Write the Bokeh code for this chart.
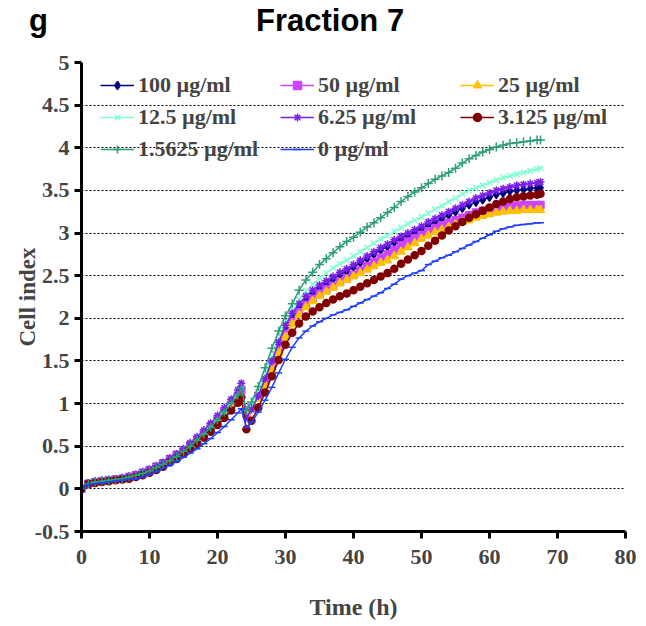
from bokeh.plotting import figure
from bokeh.models import Range1d, FixedTicker, Legend, LegendItem, Div
from bokeh.layouts import column
from bokeh.embed import file_html
from bokeh.resources import INLINE

# ---- data -------------------------------------------------------------
time_h = list(range(0, 24)) + [23.5, 24.25] + list(range(25, 68)) + [67.5]

labels = ["100 µg/ml", "50 µg/ml", "25 µg/ml", "12.5 µg/ml",
          "6.25 µg/ml", "3.125 µg/ml", "1.5625 µg/ml", "0 µg/ml"]

c100 = [0, 0.06, 0.08, 0.09, 0.10, 0.11, 0.12, 0.13, 0.15, 0.18, 0.21, 0.24, 0.28, 0.33, 0.38, 0.43, 0.49, 0.56, 0.63, 0.71, 0.79, 0.88, 0.97, 1.07, 1.15,
        0.88, 0.95, 1.10, 1.28, 1.48, 1.69, 1.88, 2.02, 2.13, 2.22, 2.29, 2.35, 2.41, 2.46, 2.51, 2.55, 2.60, 2.65, 2.70, 2.75, 2.80, 2.84, 2.89, 2.93, 2.97,
        3.01, 3.05, 3.09, 3.13, 3.17, 3.21, 3.25, 3.29, 3.33, 3.36, 3.39, 3.42, 3.45, 3.47, 3.49, 3.50, 3.51, 3.52, 3.53, 3.53]
c50 = [0, 0.06, 0.08, 0.09, 0.10, 0.11, 0.12, 0.14, 0.16, 0.19, 0.22, 0.26, 0.30, 0.35, 0.40, 0.45, 0.51, 0.58, 0.65, 0.73, 0.81, 0.90, 0.99, 1.09, 1.16,
       0.90, 0.96, 1.09, 1.25, 1.43, 1.63, 1.82, 1.96, 2.07, 2.16, 2.23, 2.29, 2.34, 2.38, 2.43, 2.47, 2.51, 2.56, 2.61, 2.66, 2.71, 2.75, 2.80, 2.86, 2.90,
       2.94, 2.98, 3.02, 3.06, 3.09, 3.12, 3.15, 3.18, 3.21, 3.24, 3.26, 3.28, 3.30, 3.31, 3.32, 3.32, 3.33, 3.33, 3.33, 3.33]
c25 = [0, 0.06, 0.07, 0.08, 0.09, 0.10, 0.11, 0.13, 0.15, 0.17, 0.20, 0.24, 0.28, 0.32, 0.37, 0.42, 0.48, 0.54, 0.61, 0.69, 0.77, 0.85, 0.94, 1.03, 1.10,
       0.88, 0.94, 1.06, 1.21, 1.39, 1.59, 1.78, 1.93, 2.04, 2.13, 2.20, 2.26, 2.31, 2.36, 2.41, 2.45, 2.49, 2.53, 2.57, 2.61, 2.65, 2.68, 2.73, 2.78, 2.83,
       2.88, 2.93, 2.97, 3.01, 3.04, 3.07, 3.10, 3.13, 3.15, 3.18, 3.20, 3.22, 3.24, 3.25, 3.26, 3.26, 3.27, 3.27, 3.27, 3.27]
c12_5 = [0, 0.08, 0.10, 0.11, 0.12, 0.12, 0.13, 0.14, 0.16, 0.19, 0.22, 0.26, 0.30, 0.34, 0.39, 0.45, 0.51, 0.58, 0.66, 0.74, 0.83, 0.92, 1.02, 1.12, 1.21,
         0.90, 0.98, 1.14, 1.34, 1.55, 1.76, 1.95, 2.09, 2.22, 2.32, 2.40, 2.47, 2.53, 2.59, 2.64, 2.68, 2.73, 2.78, 2.83, 2.88, 2.93, 2.97, 3.02, 3.06, 3.11,
         3.15, 3.19, 3.23, 3.28, 3.32, 3.37, 3.41, 3.46, 3.50, 3.53, 3.56, 3.59, 3.62, 3.65, 3.67, 3.69, 3.71, 3.73, 3.75, 3.76]
c6_25 = [0, 0.07, 0.09, 0.10, 0.11, 0.12, 0.13, 0.15, 0.17, 0.20, 0.23, 0.27, 0.31, 0.36, 0.41, 0.47, 0.54, 0.61, 0.69, 0.77, 0.86, 0.95, 1.05, 1.16, 1.24,
         0.84, 0.93, 1.09, 1.29, 1.50, 1.72, 1.92, 2.06, 2.17, 2.26, 2.33, 2.39, 2.44, 2.49, 2.54, 2.58, 2.63, 2.68, 2.73, 2.78, 2.83, 2.87, 2.92, 2.96, 3.00,
         3.04, 3.08, 3.13, 3.17, 3.21, 3.25, 3.29, 3.33, 3.37, 3.41, 3.44, 3.47, 3.50, 3.52, 3.54, 3.56, 3.57, 3.58, 3.59, 3.60]
c3_125 = [0, 0.06, 0.07, 0.08, 0.09, 0.10, 0.11, 0.12, 0.14, 0.16, 0.19, 0.22, 0.26, 0.31, 0.35, 0.41, 0.47, 0.53, 0.60, 0.67, 0.75, 0.83, 0.92, 1.01, 1.07,
          0.70, 0.80, 0.95, 1.13, 1.32, 1.51, 1.69, 1.83, 1.94, 2.02, 2.08, 2.13, 2.18, 2.22, 2.26, 2.29, 2.33, 2.37, 2.41, 2.45, 2.49, 2.53, 2.58, 2.64, 2.69,
          2.74, 2.79, 2.85, 2.91, 2.97, 3.03, 3.08, 3.13, 3.18, 3.22, 3.26, 3.30, 3.34, 3.37, 3.40, 3.42, 3.43, 3.44, 3.45, 3.46]
c1_5625 = [0, 0.06, 0.08, 0.09, 0.10, 0.11, 0.12, 0.14, 0.16, 0.18, 0.21, 0.25, 0.29, 0.33, 0.38, 0.44, 0.50, 0.57, 0.64, 0.72, 0.81, 0.90, 1.00, 1.10, 1.18,
           0.92, 1.02, 1.20, 1.42, 1.65, 1.85, 2.03, 2.17, 2.33, 2.45, 2.54, 2.63, 2.70, 2.77, 2.84, 2.90, 2.95, 3.01, 3.07, 3.12, 3.18, 3.24, 3.30, 3.37, 3.43,
           3.48, 3.53, 3.58, 3.63, 3.67, 3.71, 3.76, 3.82, 3.87, 3.91, 3.95, 3.98, 4.01, 4.03, 4.05, 4.06, 4.07, 4.08, 4.09, 4.09]
c0 = [0, 0.05, 0.06, 0.07, 0.08, 0.09, 0.10, 0.11, 0.12, 0.14, 0.17, 0.20, 0.24, 0.28, 0.32, 0.37, 0.42, 0.47, 0.53, 0.59, 0.66, 0.73, 0.81, 0.89, 0.94,
      0.72, 0.78, 0.90, 1.04, 1.19, 1.36, 1.52, 1.66, 1.77, 1.85, 1.91, 1.96, 2.00, 2.04, 2.07, 2.10, 2.14, 2.18, 2.22, 2.26, 2.30, 2.35, 2.40, 2.46, 2.50,
      2.53, 2.56, 2.63, 2.67, 2.71, 2.74, 2.78, 2.82, 2.86, 2.90, 2.94, 2.98, 3.02, 3.05, 3.07, 3.09, 3.10, 3.11, 3.12, 3.12]

series = [c100, c50, c25, c12_5, c6_25, c3_125, c1_5625, c0]

x_ticks = [0, 10, 20, 30, 40, 50, 60, 70, 80]
y_ticks = [-0.5, 0, 0.5, 1, 1.5, 2, 2.5, 3, 3.5, 4, 4.5, 5]
y_tick_labels = ["-0.5", "0", "0.5", "1", "1.5", "2", "2.5", "3", "3.5", "4", "4.5", "5"]

# ---- style ------------------------------------------------------------
colors = ["#000080", "#CC44FF", "#FFC000", "#7FFFD4", "#7A1FE8", "#800000", "#2E9E78", "#2040FF"]
markers = ["diamond", "square", "triangle", "x", "asterisk", "circle", "cross", "dash"]
msizes = [8, 7, 8, 8, 8, 7, 9, 7]
SERIF = "Liberation Serif"

header = Div(width=640, height=40, text=(
    "<div style=\"position:relative;width:640px;height:40px;font-family:'Liberation Sans';"
    "font-weight:bold;font-size:31px;line-height:31px;color:black;\">"
    "<span style=\"position:absolute;left:24px;top:0px;\">g</span>"
    "<span style=\"position:absolute;left:251px;top:0px;white-space:nowrap;\">Fraction 7</span>"
    "</div>"))

p = figure(width=640, height=572, output_backend="svg", toolbar_location=None,
           x_range=Range1d(0, 80), y_range=Range1d(-0.5, 5),
           min_border_left=81, min_border_right=15, min_border_top=12, min_border_bottom=89)
p.outline_line_color = None
p.background_fill_color = "white"

items = []
for lab, ys, col, mk, ms in zip(labels, series, colors, markers, msizes):
    r1 = p.line(time_h, ys, line_color=col, line_width=1.5)
    r2 = p.scatter(time_h, ys, marker=mk, size=ms, line_color=col, fill_color=col, line_width=1.5)
    items.append(LegendItem(label=lab, renderers=[r1, r2]))

legend = Legend(items=items, location=(19, 369), orientation="horizontal", ncols=3,
                border_line_color=None, background_fill_alpha=0,
                label_text_font=SERIF, label_text_font_style="bold", label_text_font_size="22px",
                glyph_width=34, glyph_height=20, spacing=6, label_standoff=4, label_width=136,
                padding=4, margin=0)
p.add_layout(legend)

p.xaxis.ticker = FixedTicker(ticks=x_ticks)
p.yaxis.ticker = FixedTicker(ticks=y_ticks)
p.yaxis.major_label_overrides = {t: s for t, s in zip(y_ticks, y_tick_labels)}
for ax in (p.xaxis, p.yaxis):
    ax.axis_line_width = 3
    ax.axis_line_color = "black"
    ax.major_tick_line_width = 3
    ax.major_tick_line_color = "black"
    ax.major_tick_in = 0
    ax.major_tick_out = 7
    ax.minor_tick_line_color = None
    ax.major_label_text_font = SERIF
    ax.major_label_text_font_style = "bold"
    ax.major_label_text_font_size = "22px"
    ax.axis_label_text_font = SERIF
    ax.axis_label_text_font_style = "bold"
p.xaxis.axis_label = "Time (h)"
p.yaxis.axis_label = "Cell index"
p.xaxis.axis_label_text_font_size = "24px"
p.yaxis.axis_label_text_font_size = "23px"
p.xaxis.major_label_standoff = 11
p.yaxis.major_label_standoff = 5
p.xaxis.axis_label_standoff = 27
p.yaxis.axis_label_standoff = -8

p.xgrid.grid_line_color = None
p.ygrid.grid_line_color = "black"
p.ygrid.grid_line_dash = "2 2"
p.ygrid.grid_line_width = 1

layout = column(header, p, spacing=0)
open("out.html", "w").write(file_html(layout, INLINE))
